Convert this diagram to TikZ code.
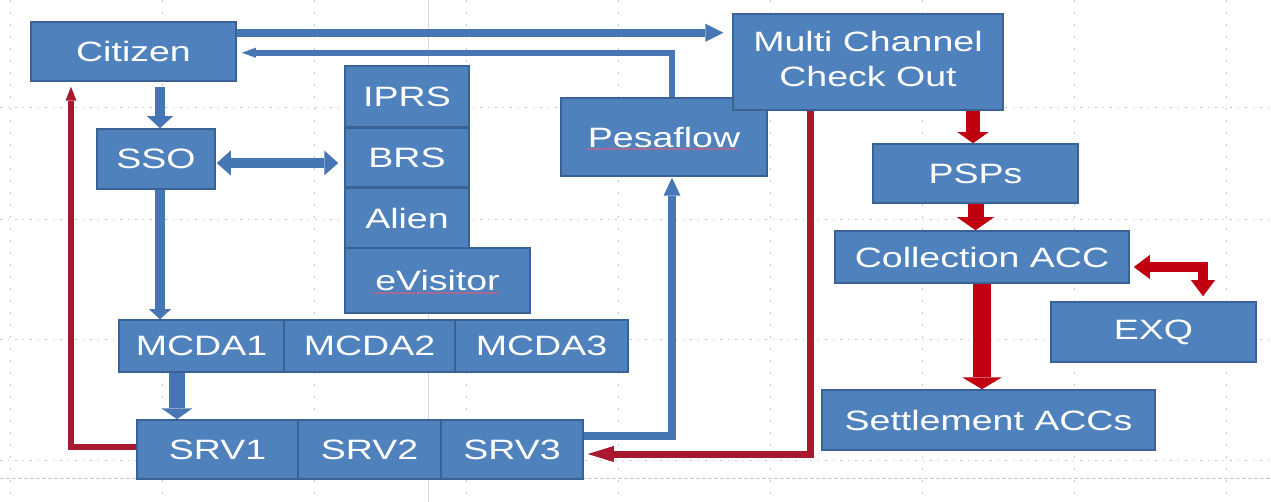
\documentclass[tikz,border=0pt]{standalone}
\usepackage{fontspec}
\setmainfont{Liberation Sans}
\usepackage{graphicx}
\usetikzlibrary{arrows.meta,calc,decorations.pathmorphing}
\definecolor{boxfill}{HTML}{4F81BD}
\definecolor{boxline}{HTML}{3A6294}
\definecolor{arrblue}{HTML}{4676B4}
\definecolor{arrred}{HTML}{C00010}
\definecolor{linered}{HTML}{A8182E}
\definecolor{gridc}{HTML}{C8C8C8}
\definecolor{squig}{HTML}{D06080}
\newcommand{\wtext}[1]{\scalebox{1.34}[1]{#1}}
\begin{document}
\begin{tikzpicture}[x=1pt,y=-1pt,
  box/.style={draw=boxline,line width=1.5pt,fill=boxfill,text=white,inner sep=0pt,
    font=\fontsize{28}{35}\selectfont},
  barrow/.style n args={4}{draw=#1,line width=#2,line join=miter,
    -{Triangle[width=#3,length=#4,line width=0pt]}},
  dbarrow/.style n args={4}{draw=#1,line width=#2,line join=miter,
    {Triangle[width=#3,length=#4,line width=0pt]}-{Triangle[width=#3,length=#4,line width=0pt]}},
  gridv/.style={gridc,line width=1pt,dash pattern=on 2pt off 10pt},
  gridh/.style={gridc,line width=1pt,dash pattern=on 1.5pt off 6pt},
  squiggle/.style={squig,line width=0.9pt,decorate,decoration={snake,amplitude=0.6pt,segment length=3pt}}
]
\useasboundingbox (0,0) rectangle (1271,502);
\fill[white] (0,0) rectangle (1271,502);
% guides
\foreach \gx in {10,162,314,466,618,770,922,1074,1226}
  \draw[gridv] (\gx,0) -- (\gx,502);
\foreach \gy in {108,220,340,460}
  \draw[gridh] (0,\gy) -- (1271,\gy);
\draw[gridc,line width=0.8pt,dash pattern=on 4pt off 2pt] (0,478) -- (1271,478);
\draw[gridc!70,line width=0.8pt] (428,0) -- (428,502);

% boxes
\node[box,minimum width=205pt,minimum height=59pt] (Citizen) at (133.5,51.5) {\wtext{Citizen}};
\node[box,minimum width=206pt,minimum height=78pt] (Pesaflow) at (664,137) {\wtext{Pesaflow}};
\node[box,minimum width=270pt,minimum height=96pt,align=center] (MCCO) at (868,62)
  {\wtext{\begin{tabular}{@{}c@{}}Multi Channel\\Check Out\end{tabular}}};
\node[box,minimum width=124pt,minimum height=61pt] (IPRS) at (407,96.5) {\wtext{IPRS}};
\node[box,minimum width=124pt,minimum height=59pt] (BRS) at (407,157.5) {\wtext{BRS}};
\node[box,minimum width=124pt,minimum height=60pt] (Alien) at (407,218) {\wtext{Alien}};
\node[box,minimum width=185pt,minimum height=65pt] (eVisitor) at (437.5,280.5) {\wtext{eVisitor}};
\node[box,minimum width=118pt,minimum height=60pt] (SSO) at (156,159) {\wtext{SSO}};
\node[box,minimum width=165pt,minimum height=52pt] (MCDA1) at (201.5,346) {\wtext{MCDA1}};
\node[box,minimum width=171pt,minimum height=52pt] (MCDA2) at (369.5,346) {\wtext{MCDA2}};
\node[box,minimum width=173pt,minimum height=52pt] (MCDA3) at (541.5,346) {\wtext{MCDA3}};
\node[box,minimum width=161pt,minimum height=59pt] (SRV1) at (217.5,449.5) {\wtext{SRV1}};
\node[box,minimum width=143pt,minimum height=59pt] (SRV2) at (369.5,449.5) {\wtext{SRV2}};
\node[box,minimum width=142pt,minimum height=59pt] (SRV3) at (512,449.5) {\wtext{SRV3}};
\node[box,minimum width=205pt,minimum height=59pt] (PSPs) at (975.5,173.5) {\wtext{PSPs}};
\node[box,minimum width=294pt,minimum height=52pt] (Collection) at (982,257) {\wtext{Collection ACC}};
\node[box,minimum width=205pt,minimum height=60pt] (EXQ) at (1153.5,332) {\wtext{EXQ}};
\node[box,minimum width=333pt,minimum height=60pt] (Settlement) at (988.5,420) {\wtext{Settlement ACCs}};

% spell-check underlines
\draw[squiggle] ($(Pesaflow.center)+(-77,12)$) -- ($(Pesaflow.center)+(74,12)$);
\draw[squiggle] ($(eVisitor.center)+(-64,12.5)$) -- ($(eVisitor.center)+(62,12.5)$);

% blue connectors
\draw[barrow={arrblue}{8pt}{18pt}{18pt}] ($(Citizen.north east)+(0,11.5)$) -- ($(MCCO.west |- Citizen.north east)+(-9,11.5)$);
\draw[barrow={arrblue}{6pt}{10pt}{14pt}] ($(Pesaflow.north)+(8,0)$) |- ($(Citizen.north east)+(5,31.5)$);
\draw[barrow={arrblue}{10pt}{26pt}{12pt}] ($(SSO.north |- Citizen.south)+(4,5)$) -- ($(SSO.north)+(4,0)$);
\draw[dbarrow={arrblue}{10pt}{25pt}{14pt}] ($(SSO.east)+(1,4)$) -- ($(SSO.east -| BRS.west)+(-6,4)$);
\draw[barrow={arrblue}{10pt}{22pt}{10pt}] ($(SSO.south)+(4,0)$) -- ($(SSO.south |- MCDA1.north)+(4,0)$);
\draw[barrow={arrblue}{16pt}{31pt}{11pt}] ($(MCDA1.south)+(-24.5,0)$) -- ($(MCDA1.south |- SRV1.north)+(-24.5,0)$);
\draw[barrow={arrblue}{8pt}{17pt}{18pt}] ($(SRV3.east)+(0,-13.5)$) -| ($(Pesaflow.south)+(8,1)$);

% red connectors
\draw[barrow={linered}{7pt}{16pt}{26pt}] ($(MCCO.south)+(-58,0)$) |- ($(SRV3.east)+(4,4.5)$);
\draw[barrow={linered}{6pt}{11pt}{14pt}] ($(SRV1.west)+(0,-2.5)$) -| ($(Citizen.south)+(-62.5,5)$);
\draw[barrow={arrred}{14pt}{31pt}{11pt}] ($(PSPs.north |- MCCO.south)+(-2.5,0)$) -- ($(PSPs.north)+(-2.5,0)$);
\draw[barrow={arrred}{16pt}{37pt}{13pt}] (PSPs.south) -- (PSPs.south |- Collection.north);
\draw[barrow={arrred}{18pt}{40pt}{12pt}] (Collection.south) -- (Collection.south |- Settlement.north);
\draw[dbarrow={arrred}{10pt}{24pt}{16pt}] ($(Collection.east)+(4,10)$) -| ($(EXQ.north)+(49.5,-5)$);
\end{tikzpicture}
\end{document}
